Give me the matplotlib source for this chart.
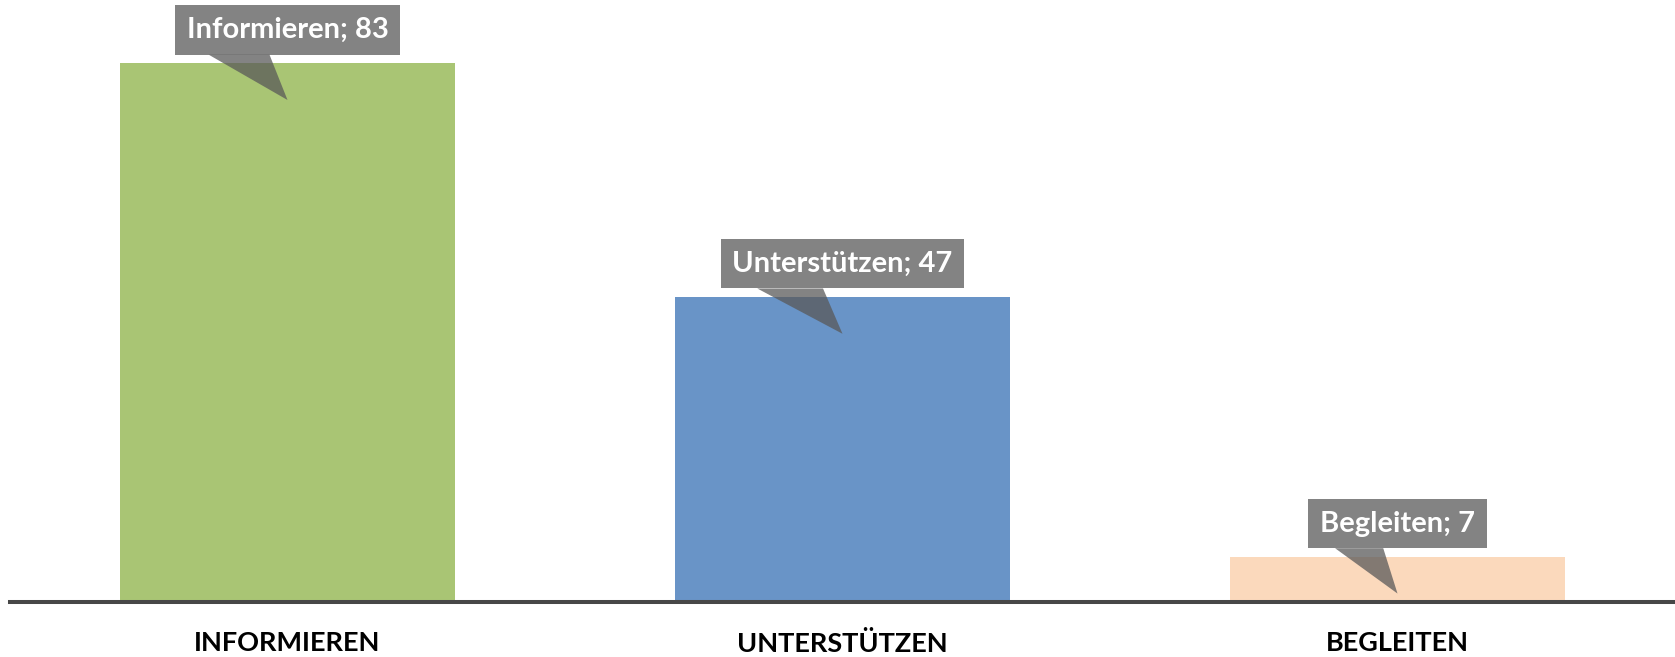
import matplotlib.pyplot as plt
import numpy as np
from matplotlib.patches import Polygon

# data
categories = ['INFORMIEREN', 'UNTERSTÜTZEN', 'BEGLEITEN']
series_names = ['Informieren', 'Unterstützen', 'Begleiten']
values = [83, 47, 7]
colors = ['#A9C574', '#6994C7', '#FBD9BC']

plt.rcParams['font.family'] = ['Lato', 'DejaVu Sans']

fig = plt.figure(figsize=(16.75, 6.57), dpi=100)
ax = fig.add_axes([10 / 1675, 55 / 657, 1665 / 1675, 596 / 657])

x = np.arange(len(categories))
ax.bar(x, values, width=0.605, color=colors, zorder=2)

ax.set_xlim(-0.5, 2.5)
ax.set_ylim(0, 596 / 6.494)

for sp in ['top', 'left', 'right']:
    ax.spines[sp].set_visible(False)
ax.spines['bottom'].set_color('#474747')
ax.spines['bottom'].set_linewidth(2.9)
ax.spines['bottom'].set_zorder(3)
ax.set_yticks([])
ax.set_xticks(x)
ax.set_xticklabels(categories, fontsize=19.5, fontweight='bold', color='black')
ax.tick_params(axis='x', length=0, pad=21)

# callouts
callout_col = '#595959'
labels = []
for i, (name, v) in enumerate(zip(series_names, values)):
    t = ax.annotate('%s; %d' % (name, v), xy=(i, v), xytext=(0, 20),
                    textcoords='offset pixels', ha='center', va='bottom',
                    fontsize=21, fontweight='bold', color='white', zorder=5,
                    bbox=dict(boxstyle='square,pad=0.4', fc=callout_col,
                              ec='none', alpha=0.75))
    labels.append(t)

fig.canvas.draw()
inv = ax.transData.inverted()
for i, (t, v) in enumerate(zip(labels, values)):
    bb = t.get_bbox_patch().get_window_extent()
    tip = ax.transData.transform((i, v)) - np.array([0, 37])
    pts = [(bb.x0 + 0.15 * bb.width, bb.y0),
           (bb.x0 + 0.42 * bb.width, bb.y0),
           tuple(tip)]
    pts = inv.transform(pts)
    ax.add_patch(Polygon(pts, closed=True, fc=callout_col, ec='none',
                         alpha=0.75, zorder=4))

plt.savefig('out.png', dpi=100)
